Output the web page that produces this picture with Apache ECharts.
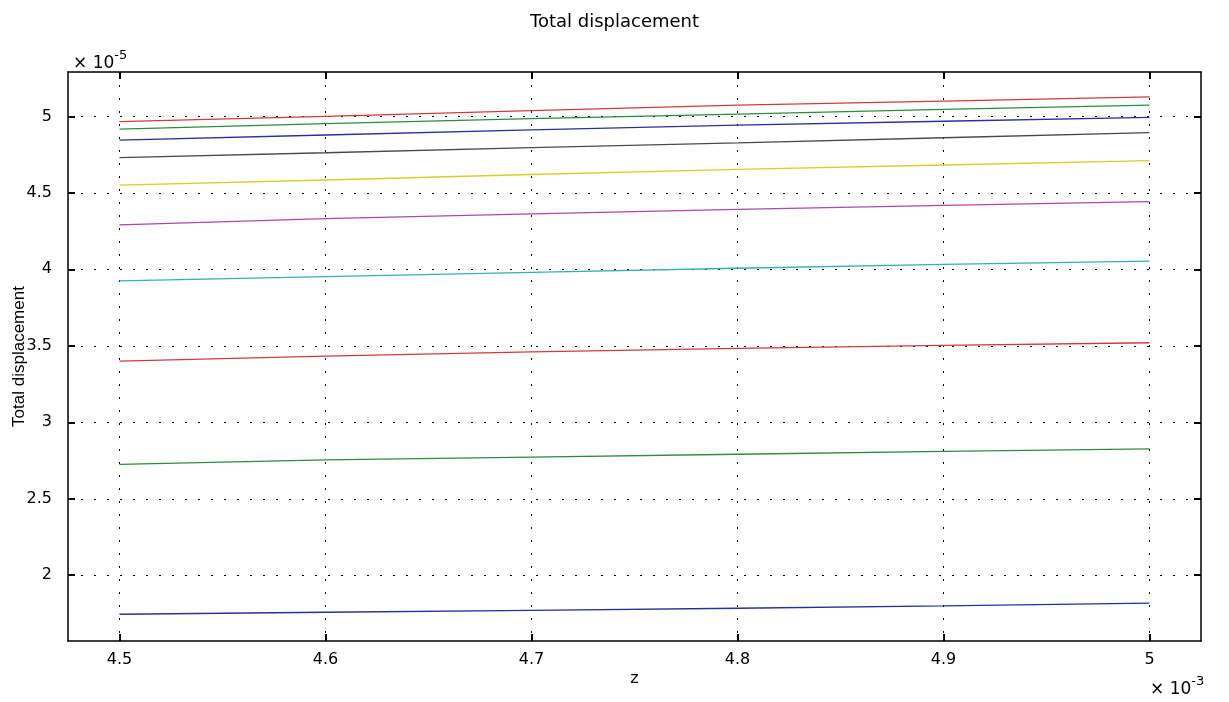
<!DOCTYPE html>
<html>
<head>
<meta charset="utf-8">
<title>Total displacement</title>
<script src="https://cdn.jsdelivr.net/npm/echarts@6/dist/echarts.min.js"></script>
<style>
  html, body { margin: 0; padding: 0; background: #fff; }
  #chart { width: 1229px; height: 702px; }
</style>
</head>
<body>
<div id="chart"></div>
<script>
// z positions (x 10^-3)
const zValues = [4.5, 4.6, 4.7, 4.8, 4.9, 5.0]

// displacement curves (x 10^-5), top to bottom
const curve1 = [4.965, 5.000, 5.038, 5.074, 5.100, 5.128]
const curve2 = [4.917, 4.952, 4.985, 5.015, 5.045, 5.074]
const curve3 = [4.845, 4.878, 4.912, 4.943, 4.968, 4.993]
const curve4 = [4.730, 4.762, 4.795, 4.827, 4.860, 4.893]
const curve5 = [4.551, 4.584, 4.620, 4.654, 4.682, 4.710]
const curve6 = [4.290, 4.331, 4.362, 4.392, 4.418, 4.442]
const curve7 = [3.924, 3.952, 3.980, 4.007, 4.032, 4.054]
const curve8 = [3.400, 3.433, 3.460, 3.483, 3.503, 3.520]
const curve9 = [2.725, 2.754, 2.772, 2.791, 2.810, 2.826]
const curve10 = [1.745, 1.758, 1.770, 1.784, 1.800, 1.817]

const xTicks = [4.5, 4.6, 4.7, 4.8, 4.9, 5]
const yTicks = [2, 2.5, 3, 3.5, 4, 4.5, 5]

const curves = [curve1, curve2, curve3, curve4, curve5, curve6, curve7, curve8, curve9, curve10]
const colors = ['#d23a3a', '#2e8b3e', '#2b2f96', '#4a4a4a', '#d6cf2a', '#b044b0', '#35b0b0', '#d23a3a', '#2e8b3e', '#2b2f96']

const font = 'DejaVu Sans, Liberation Sans, sans-serif'
const gridDots = { color: '#000', width: 1, type: [2, 11] }

const chart = echarts.init(document.getElementById('chart'))

const baseX = {
  type: 'value',
  min: 4.475,
  max: 5.025,
  axisLine: { show: true, onZero: false, lineStyle: { color: '#000', width: 1.5 } },
  axisTick: { show: true, inside: true, length: 7, customValues: xTicks, lineStyle: { color: '#000', width: 2 } }
}
const baseY = {
  type: 'value',
  min: 1.57,
  max: 5.29,
  axisLine: { show: true, onZero: false, lineStyle: { color: '#000', width: 1.5 } },
  axisTick: { show: true, inside: true, length: 7, customValues: yTicks, lineStyle: { color: '#000', width: 2 } }
}

const supStyle = {
  a: { fontFamily: font, fontSize: 17, fill: '#000', verticalAlign: 'bottom' },
  b: { fontFamily: font, fontSize: 13, fill: '#000', padding: [0, 0, 10, 0], verticalAlign: 'bottom' }
}

const option = {
  animation: false,
  backgroundColor: '#fff',
  title: {
    text: 'Total displacement',
    left: 'center',
    top: 8,
    textStyle: { fontFamily: font, fontSize: 18, fontWeight: 'normal', color: '#000' }
  },
  grid: { left: 68, top: 72, right: 28, bottom: 61, containLabel: false, outerBoundsMode: 'none' },
  xAxis: [
    Object.assign({}, baseX, {
      position: 'bottom',
      name: 'z',
      nameLocation: 'middle',
      nameGap: 30,
      nameMoveOverlap: false,
      nameTextStyle: { fontFamily: font, fontSize: 16, color: '#000' },
      axisLabel: { customValues: xTicks, margin: 11, fontFamily: font, fontSize: 16, color: '#000' },
      splitLine: { show: true, lineStyle: gridDots }
    }),
    Object.assign({}, baseX, {
      position: 'top',
      axisLabel: { show: false },
      splitLine: { show: false }
    })
  ],
  yAxis: [
    Object.assign({}, baseY, {
      position: 'left',
      name: 'Total displacement',
      nameLocation: 'middle',
      nameGap: 40,
      nameMoveOverlap: false,
      nameTextStyle: { fontFamily: 'Liberation Sans, Arial, sans-serif', fontSize: 17, color: '#000' },
      axisLabel: { customValues: yTicks, margin: 16, fontFamily: font, fontSize: 16, color: '#000' },
      splitLine: { show: true, lineStyle: gridDots }
    }),
    Object.assign({}, baseY, {
      position: 'right',
      axisLabel: { show: false },
      splitLine: { show: false }
    })
  ],
  graphic: [
    {
      type: 'text',
      left: 73,
      top: 49,
      style: { text: '{a|\u00d7 10}{b|-5}', rich: supStyle }
    },
    {
      type: 'text',
      left: 1150,
      top: 675,
      style: { text: '{a|\u00d7 10}{b|-3}', rich: supStyle }
    }
  ],
  series: curves.map((vals, i) => ({
    type: 'line',
    name: 'curve' + (i + 1),
    xAxisIndex: 0,
    yAxisIndex: 0,
    showSymbol: false,
    lineStyle: { color: colors[i], width: 1.3 },
    itemStyle: { color: colors[i] },
    data: zValues.map((z, k) => [z, vals[k]])
  }))
}

chart.setOption(option)
</script>
</body>
</html>
